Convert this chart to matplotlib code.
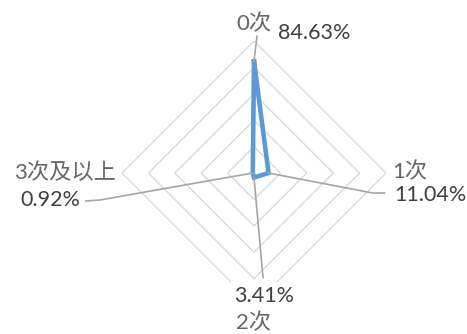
import numpy as np
import matplotlib
matplotlib.use('Agg')
import matplotlib.pyplot as plt
from matplotlib.lines import Line2D
from matplotlib.transforms import IdentityTransform

plt.rcParams['font.family'] = ['Lato', 'Noto Sans CJK SC', 'DejaVu Sans']

# Data
categories = ['0次', '1次', '2次', '3次及以上']
values = [0.8463, 0.1104, 0.0341, 0.0092]
value_labels = ['84.63%', '11.04%', '3.41%', '0.92%']
grid_levels = [0.2, 0.4, 0.6, 0.8, 1.0]

# label placement (pixel offsets, y up)
cat_offsets = [(0, 17), (6, 1), (0, -18), (-6, 0)]
cat_align = [('center', 'center'), ('left', 'center'), ('center', 'center'), ('right', 'center')]
val_offsets = [(60, 28), (126, -22), (10, -118), (-173, -27)]
val_align = [('center', 'center'), ('left', 'center'), ('center', 'center'), ('right', 'center')]
# leader line: list of offsets from the data point
leaders = [[(3, 25)], [(104, -20), (116, -20)], [(9, -100)], [(-153, -27), (-167, -28)]]

W, H = 467, 334
cx, cy, R = 254, 173, 132
fig = plt.figure(figsize=(W / 100, H / 100), dpi=100)
ax = fig.add_axes([(cx - R) / W, (H - cy - R) / H, 2 * R / W, 2 * R / H], projection='polar')
ax.set_theta_zero_location('N')
ax.set_theta_direction(-1)
ax.set_ylim(0, 1)
ax.grid(False)
ax.set_xticks([])
ax.set_yticks([])
ax.spines['polar'].set_visible(False)
ax.patch.set_alpha(0)

theta = np.linspace(0, 2 * np.pi, len(categories), endpoint=False)
theta_c = np.append(theta, theta[0])

# diamond grid
for lvl in grid_levels:
    ax.plot(theta_c, [lvl] * len(theta_c), color='#D9D9D9', lw=1, zorder=1)

# data series
vals_c = values + values[:1]
ax.plot(theta_c, vals_c, color='#5B9BD5', lw=3.3, solid_joinstyle='miter', zorder=3)

# leader lines
for t, v, pts in zip(theta, values, leaders):
    px, py = ax.transData.transform((t, v))
    xs = [px] + [px + dx for dx, dy in pts]
    ys = [py] + [py + dy for dx, dy in pts]
    fig.add_artist(Line2D(xs, ys, transform=IdentityTransform(), color='#A6A6A6', lw=1.2, zorder=2))

# category labels
for t, c, off, (ha, va) in zip(theta, categories, cat_offsets, cat_align):
    ax.annotate(c, xy=(t, 1.0), xytext=off, textcoords='offset pixels',
                ha=ha, va=va, fontsize=16, color='#666666', annotation_clip=False, zorder=4)

# value labels (white box like Excel data labels)
for t, v, s, off, (ha, va) in zip(theta, values, value_labels, val_offsets, val_align):
    ax.annotate(s, xy=(t, v), xytext=off, textcoords='offset pixels',
                ha=ha, va=va, fontsize=15.5, color='#404040', annotation_clip=False, zorder=5,
                bbox=dict(boxstyle='square,pad=0.15', fc='white', ec='none'))

fig.savefig('out.png', dpi=100, facecolor='white')
